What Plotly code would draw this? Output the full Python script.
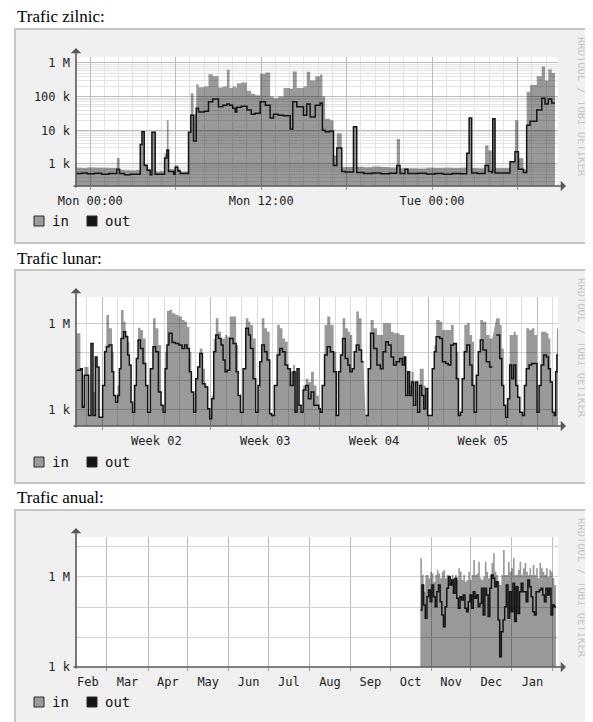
import pandas as pd
import plotly.graph_objects as go

# ------------------------------------------------------------------ data
# daily graph: hours after Mon 00:00, bytes/s
daily_hours = [-1.0, -0.6, -0.2, 0.3, 0.8, 1.3, 1.87, 2.06, 2.4, 2.8,
               3.2, 3.51, 3.63, 3.79, 4.0, 4.21, 4.33, 4.56, 4.9, 5.22,
               5.38, 5.5, 5.85, 5.96, 6.15, 6.32, 6.9, 7.06, 7.25, 7.44,
               7.6, 8.0, 8.3, 8.6, 9.0, 9.3, 9.59, 9.78, 10.0, 10.18,
               10.29, 10.6, 11.0, 11.3, 11.58, 11.93, 12.3, 12.63, 12.87, 13.2,
               13.57, 14.04, 14.22, 14.5, 14.97, 15.2, 15.44, 15.8, 16.14, 16.3,
               16.49, 16.84, 17.08, 17.31, 17.66, 17.89, 18.48, 18.71, 19.2, 19.8,
               20.4, 21.0, 21.52, 21.75, 22.1, 22.3, 23.0, 23.6, 24.2, 24.8,
               25.4, 26.0, 26.43, 26.6, 26.78, 27.2,
               27.72, 27.96, 28.19, 28.26, 28.42, 29.47, 29.82, 30.06, 30.41, 30.64,
               30.88, 31.35, 31.7, 31.93, 32.16, 32.4, 32.63]
daily_in = [780, 760, 790, 770, 780, 760, 1500, 680, 650, 640,
            660, 3800, 9000, 1000, 700, 520, 8700, 600, 620, 2000,
            20000, 700, 700, 900, 700, 600, 9000, 126000, 30000, 234000,
            190000, 200000, 460000, 400000, 186000, 200000, 630000, 180000, 200000, 190000,
            250000, 260000, 150000, 120000, 110000, 480000, 520000, 100000, 90000, 100000,
            180000, 170000, 560000, 180000, 200000, 550000, 300000, 400000, 450000, 100000,
            22000, 20000, 1800, 8000, 800, 820, 12800, 830, 800, 840,
            820, 790, 5500, 750, 760, 750, 740, 770, 760, 780,
            760, 770, 2100, 23000, 760, 750,
            3600, 2500, 800, 22000, 760, 1200, 20000, 1500, 700, 140000,
            220000, 400000, 780000, 300000, 650000, 500000, 500000]
daily_out = [520, 540, 510, 530, 500, 520, 700, 520, 480, 500,
             500, 3800, 9000, 900, 650, 480, 8700, 500, 500, 1500,
             2600, 600, 500, 800, 620, 520, 8700, 28000, 4800, 45000,
             35000, 37000, 70000, 85000, 50000, 55000, 60000, 55000, 45000, 35000,
             48000, 52000, 40000, 30000, 32000, 70000, 55000, 23000, 30000, 28000,
             27000, 11000, 70000, 50000, 28000, 60000, 25000, 55000, 65000, 10000,
             9000, 9500, 900, 3000, 600, 580, 12800, 560, 520, 545,
             510, 530, 900, 520, 700, 520, 530, 505, 525, 500,
             525, 515, 2100, 23000, 540, 525,
             900, 600, 560, 22000, 540, 1170, 2300, 700, 560, 14000,
             18600, 40000, 90000, 60000, 85000, 65000, 65000]
daily_grid_hours = [0, 6, 12, 18, 24, 30]
daily_label_hours = [0, 12, 24]
daily_labels = ["Mon 00:00", "Mon 12:00", "Tue 00:00"]

# monthly graph: days after the start of week 02, bytes/s (None = no data)
month_days = [-1.67, -1.39, -1.27, -1.14, -0.86, -0.71, -0.58, -0.43, -0.32, -0.19,
              0.04, 0.17, 0.28, 0.45, 0.64, 0.75, 0.88, 1.01, 1.12, 1.22,
              1.39, 1.52, 1.65, 1.76, 1.87, 1.97, 2.1, 2.21, 2.32, 2.47,
              2.64, 2.81, 2.94, 3.11, 3.28, 3.45, 3.63, 3.8, 3.93, 4.06,
              4.18, 4.31, 4.51, 4.72, 4.94, 5.15, 5.32, 5.47, 5.62, 5.75,
              5.9, 6.03, 6.16, 6.29, 6.46, 6.63, 6.8, 6.93, 7.06, 7.19,
              7.32, 7.49, 7.66, 7.79, 7.92, 8.05, 8.22, 8.43, 8.63, 8.76,
              8.91, 9.08, 9.25, 9.42, 9.55, 9.72, 9.89, 10.04, 10.15, 10.28,
              10.45, 10.62, 10.79, 10.92, 11.09, 11.27, 11.44, 11.61, 11.78, 11.95,
              12.12, 12.3, 12.42, 12.55, 12.68, 12.81, 12.94, 13.11, 13.28, 13.45,
              13.63, 13.8, 13.95, 14.04, 14.17, 14.32, 14.49, 14.69, 14.9, 15.07,
              15.22, 15.35, 15.48, 15.65, 15.82, 15.95, 16.1, 16.23, 16.36, 16.53,
              16.7, 16.83, 16.9, 16.96, 17.13, 17.28, 17.48, 17.69, 17.91, 18.08,
              18.25, 18.42, 18.6, 18.76, 18.94, 19.15, 19.32, 19.45, 19.54, 19.67,
              19.79, 19.92, 20.05, 20.18, 20.31, 20.44, 20.57, 20.7, 20.82, 20.95,
              21.12, 21.25, 21.38, 21.5, 21.73, 21.9, 22.11, 22.28, 22.45, 22.63,
              22.8, 22.93, 23.06, 23.18, 23.31, 23.48, 23.66, 23.81, 23.94, 24.09,
              24.21, 24.34, 24.51, 24.73, 24.94, 25.12, 25.25, 25.37, 25.59, 25.72,
              25.85, 25.97, 26.1, 26.23, 26.36, 26.49, 26.62, 26.75, 26.88, 27.06,
              27.18, 27.3, 27.48, 27.65, 27.82, 27.99, 28.12, 28.25, 28.42, 28.59,
              28.72, 28.85, 28.98, 29.1, 29.19, 29.27, 29.34]
month_in = [469e3, 27e3, 1.4e3, 31e3, 614, 208e3, 4.1e3, 70e3, 31e3, 536,
            7e3, 106e3, 2.08e6, 703e3, 106e3, 3.1e3, 1.8e3, 7e3, 27e3, 3.12e6,
            1.21e6, 409e3, 238e3, 36e3, 1.8e3, 805, 7e3, 61e3, 743e3, 614e3,
            312e3, 7e3, 805, 27e3, 1.58e6, 703e3, 182e3, 1.4e3, 805, 106e3,
            2.88e6, 3.12e6, 2.38e6, 2.08e6, 1.82e6, 1.38e6, 1.21e6, 805e3, 106e3, 4.1e3,
            805, 12e3, 31e3, 138e3, 27e3, 7e3, 1.06e3, 469, 3.1e3, 312e3,
            1.58e6, 536e3, 312e3, 312e3, 409e3, 357e3, 1.82e6, 1.82e6, 182e3, 3.1e3,
            805, 27e3, 1.58e6, 1.21e6, 922e3, 312e3, 805, 7e3, 47e3, 1.58e6,
            703e3, 536e3, 703, 614, 7e3, 922e3, 703e3, 312e3, 238e3, 27e3,
            21e3, 36e3, 21e3, 27e3, 1.4e3, 805, 7e3, 12e3, 9.2e3, 21e3,
            7e3, 3.1e3, 1.06e3, 805, 7e3, 922e3, 1.82e6, 922e3, 106e3, 614,
            21e3, 81e3, 1.58e6, 703e3, 536e3, 409e3, 27e3, 106e3, 2.72e6, 1.58e6,
            47e3, 47e3, None, 614, 27e3, 1.38e6, 703e3, 409e3, 409e3, 1.06e6,
            1.06e6, 1.06e6, 536e3, 469e3, 469e3, 409e3, 409e3, 70e3, 3.1e3, 21e3,
            7e3, 21e3, 1.4e3, 9.2e3, 805, 27e3, 27e3, 7e3, 5.4e3, 614,
            614, 27e3, 182e3, 1.38e6, 1.21e6, 614e3, 614e3, 614e3, 922e3, 208e3,
            106e3, 614, 805, 12e3, 922e3, 1.06e6, 409e3, 238e3, 805, 16e3,
            106e3, 1.38e6, 1.21e6, 409e3, 312e3, 312e3, None, 1.58e6, 922e3, 138e3,
            1.4e3, 536, 2.4e3, 409e3, 409e3, 536e3, 409e3, 2.7e3, 805, 614,
            7e3, 703e3, 614e3, 703e3, 409e3, 805, 7e3, 536e3, 536e3, 469e3,
            312e3, 9.2e3, 805, 614, 21e3, 703e3, 703e3]
month_out = [24e3, 27e3, 1.2e3, 16e3, 614, 208e3, 614, 70e3, 31e3, 536,
             7e3, 106e3, 158e3, 182e3, 21e3, 3.1e3, 1.8e3, 3.1e3, 27e3, 312e3,
             536e3, 357e3, 81e3, 36e3, 1.8e3, 805, 7e3, 61e3, 272e3, 138e3,
             41e3, 7e3, 805, 27e3, 158e3, 106e3, 4.1e3, 1.4e3, 805, 27e3,
             182e3, 469e3, 225e3, 208e3, 182e3, 138e3, 182e3, 138e3, 21e3, 4.1e3,
             805, 12e3, 31e3, 92e3, 8e3, 6.1e3, 1.06e3, 469, 2.4e3, 106e3,
             409e3, 312e3, 182e3, 54e3, 21e3, 24e3, 312e3, 208e3, 21e3, 3.1e3,
             805, 27e3, 703e3, 409e3, 138e3, 12e3, 805, 7e3, 47e3, 182e3,
             106e3, 54e3, 703, 614, 7e3, 81e3, 138e3, 106e3, 36e3, 27e3,
             7e3, 21e3, 805, 27e3, 1.4e3, 805, 4.8e3, 7e3, 2.4e3, 4.1e3,
             1.4e3, 1.4e3, 1.06e3, 805, 7e3, 81e3, 158e3, 106e3, 21e3, 614,
             21e3, 81e3, 312e3, 61e3, 36e3, 21e3, 27e3, 106e3, 182e3, 121e3,
             47e3, 47e3, None, 614, 27e3, 469e3, 138e3, 36e3, 27e3, 106e3,
             238e3, 182e3, 70e3, 36e3, 47e3, 61e3, 36e3, 70e3, 3.1e3, 21e3,
             3.1e3, 9.2e3, 1.4e3, 9.2e3, 805, 7e3, 3.1e3, 1.06e3, 5.4e3, 614,
             614, 27e3, 106e3, 357e3, 312e3, 47e3, 41e3, 36e3, 182e3, 208e3,
             12e3, 614, 805, 12e3, 106e3, 182e3, 36e3, 7e3, 805, 16e3,
             106e3, 272e3, 121e3, 47e3, 31e3, 31e3, None, 409e3, 61e3, 7e3,
             1.4e3, 536, 2.4e3, 36e3, 12e3, 36e3, 7e3, 2.7e3, 805, 614,
             7e3, 27e3, 36e3, 41e3, 41e3, 805, 7e3, 36e3, 81e3, 70e3,
             27e3, 9.2e3, 805, 614, 21e3, 81e3, 81e3]
week_starts = ["2009-01-05", "2009-01-12", "2009-01-19", "2009-01-26", "2009-02-02"]
week_labels = ["Week 02", "Week 03", "Week 04", "Week 05"]

# yearly graph: one sample every 30 h from 2008-10-23 18:00, bytes/s
year_in = [4.2e6, 1.17e6, 325e3, 1.17e6, 1.17e6, 910e3, 1.5e6, 1.32e6, 700e3, 1.17e6,
           1.7e6, 1.32e6, 910e3, 1.5e6, 1.7e6, 910e3, 1.17e6, 1.17e6, 910e3, 1.17e6,
           910e3, 1.17e6, 800e3, 1.95e6, 1.5e6, 800e3, 1.17e6, 700e3, 800e3, 1.5e6,
           800e3, 1.17e6, 3.7e6, 1.17e6, 1.32e6, 3.2e6, 910e3, 800e3, 1.02e6, 3.2e6,
           1.5e6, 910e3, 1.17e6, 2.9e6, 6.2e6, 1.5e6, 1.17e6, 700e3, 540e3, 1.17e6,
           7.9e6, 1.17e6, 1.17e6, 3.2e6, 1.5e6, 1.95e6, 4.2e6, 1.17e6, 1.17e6, 1.7e6,
           3.2e6, 1.17e6, 1.95e6, 2.9e6, 1.5e6, 1.17e6, 1.95e6, 1.17e6, 2.5e6, 1.17e6,
           1.95e6, 910e3, 2.9e6, 1.95e6, 1.5e6, 1.17e6, 1.95e6, 1.02e6, 1.7e6, 1.5e6,
           910e3, 540e3, 540e3]
year_out = [80e3, 540e3, 117e3, 42e3, 220e3, 370e3, 150e3, 540e3, 220e3, 102e3,
            325e3, 540e3, 150e3, 54e3, 22e3, 102e3, 420e3, 1.02e6, 540e3, 800e3,
            285e3, 910e3, 195e3, 90e3, 220e3, 170e3, 250e3, 90e3, 70e3, 150e3,
            250e3, 90e3, 325e3, 195e3, 250e3, 102e3, 132e3, 420e3, 54e3, 420e3,
            250e3, 48e3, 420e3, 1.17e6, 910e3, 475e3, 700e3, 37e3, 2.2e3, 15e3,
            37e3, 102e3, 540e3, 42e3, 325e3, 70e3, 615e3, 33e3, 475e3, 61e3,
            325e3, 615e3, 325e3, 325e3, 150e3, 800e3, 475e3, 220e3, 70e3, 54e3,
            325e3, 325e3, 370e3, 420e3, 250e3, 150e3, 420e3, 250e3, 420e3, 54e3,
            117e3, 102e3, 102e3]
month_starts = ["2008-02-01", "2008-03-01", "2008-04-01", "2008-05-01", "2008-06-01",
                "2008-07-01", "2008-08-01", "2008-09-01", "2008-10-01", "2008-11-01",
                "2008-12-01", "2009-01-01", "2009-02-01"]
month_labels = ["Feb", "Mar", "Apr", "May", "Jun", "Jul", "Aug", "Sep", "Oct",
                "Nov", "Dec", "Jan"]

decade_ticks = [1e3, 1e4, 1e5, 1e6, 1e7]
daily_tick_text = ["1 k", "10 k", "100 k", "1 M", ""]
sparse_tick_text = ["1 k", "", "", "1 M", ""]
series_names = ["in", "out"]
watermark = "RRDTOOL / TOBI OETIKER"

# ------------------------------------------------------------------ build
W, H = 593, 722
OFF = 8  # the page places the figure 8 px in from the window corner


def fx(x):
    return (x - OFF) / W


def fy(y):
    return 1 - (y - OFF) / H


MONO = "DejaVu Sans Mono"
FILL = "rgba(0,0,0,0.40)"
OUTC = "#141414"
AXIS = "#5a5a5a"
GMAJ = "#bcbcbc"
GMIN = "#e3e3e3"

day0 = pd.Timestamp("2009-02-02 00:00")
wk0 = pd.Timestamp("2009-01-05 00:00")
d_x = [day0 + pd.Timedelta(hours=h) for h in daily_hours]
m_x = [wk0 + pd.Timedelta(days=d) for d in month_days]
y_x = list(pd.date_range("2008-10-23 18:00", periods=len(year_in), freq="30h"))


def mids(starts):
    t = [pd.Timestamp(s) for s in starts]
    return [a + (b - a) / 2 for a, b in zip(t[:-1], t[1:])]


panels = [
    dict(title="Trafic zilnic:", box=(15, 29, 588, 243), plot=(76, 57, 558, 186),
         x=d_x, yin=daily_in, yout=daily_out,
         xrange=[day0 - pd.Timedelta(hours=1), day0 + pd.Timedelta(hours=32.84)],
         yrange=[2.347, 6.175],
         grid=[day0 + pd.Timedelta(hours=h) for h in daily_grid_hours],
         minor=dict(tickmode="linear", tick0=day0, dtick=3600000, showgrid=True,
                    gridcolor=GMIN, ticks=""),
         lab_x=[day0 + pd.Timedelta(hours=h) for h in daily_label_hours],
         lab_t=daily_labels, ytext=daily_tick_text, yminor=True, ygrid=GMAJ),
    dict(title="Trafic lunar:", box=(15, 270, 588, 483), plot=(76, 297, 558, 426),
         x=m_x, yin=month_in, yout=month_out,
         xrange=[wk0 - pd.Timedelta(days=1.673), wk0 + pd.Timedelta(days=29.34)],
         yrange=[2.42, 6.947],
         grid=[pd.Timestamp(s) for s in week_starts],
         minor=dict(tickmode="linear", tick0=wk0, dtick=86400000, showgrid=True,
                    gridcolor="#dcdcdc", ticks=""),
         lab_x=mids(week_starts), lab_t=week_labels, ytext=sparse_tick_text,
         yminor=False, ygrid="#cdcdcd"),
    dict(title="Trafic anual:", box=(15, 510, 588, 730), plot=(76, 537, 558, 667),
         x=y_x, yin=year_in, yout=year_out,
         xrange=[pd.Timestamp("2008-02-06 14:00"), pd.Timestamp("2009-02-04 19:00")],
         yrange=[3.0, 7.333],
         grid=[pd.Timestamp(s) for s in month_starts],
         minor=None,
         lab_x=mids(month_starts), lab_t=month_labels, ytext=sparse_tick_text,
         yminor=False, ygrid="#d2d2d2"),
]

fig = go.Figure()
shapes = []
annotations = []
layout = {}

minor_log = [k * 10 ** e for e in range(2, 7) for k in range(2, 10)]

for i, p in enumerate(panels):
    n = i + 1
    xs = "" if n == 1 else str(n)
    ys = xs
    lx = str(n + 3)
    bx0, by0, bx1, by1 = p["box"]
    px0, py0, px1, py1 = p["plot"]

    # panel frame + white plotting area
    shapes.append(dict(type="rect", xref="paper", yref="paper", layer="below",
                       x0=fx(bx0), x1=fx(bx1), y0=fy(by1), y1=fy(by0),
                       fillcolor="#f0f0f0", line=dict(color="#c6c6c6", width=2)))
    shapes.append(dict(type="rect", xref="paper", yref="paper", layer="below",
                       x0=fx(px0), x1=fx(px1), y0=fy(py1), y1=fy(py0),
                       fillcolor="#ffffff", line=dict(width=0)))

    # data
    fig.add_trace(go.Scatter(x=p["x"], y=p["yin"], mode="lines", name=series_names[0],
                             line=dict(width=0, shape="hv"), fill="tozeroy",
                             fillcolor=FILL, connectgaps=False, showlegend=False,
                             xaxis="x" + xs, yaxis="y" + ys, hoverinfo="skip"))
    fig.add_trace(go.Scatter(x=p["x"], y=p["yout"], mode="lines", name=series_names[1],
                             line=dict(width=1.5, color=OUTC, shape="hv"),
                             connectgaps=False, showlegend=False,
                             xaxis="x" + xs, yaxis="y" + ys, hoverinfo="skip"))
    # label axis placeholder
    fig.add_trace(go.Scatter(x=[None], y=[None], mode="lines", showlegend=False,
                             xaxis="x" + lx, yaxis="y" + ys, hoverinfo="skip"))

    xa = dict(type="date", domain=[fx(px0), fx(px1)], anchor="y" + ys,
              range=p["xrange"], tickmode="array", tickvals=p["grid"],
              showticklabels=False, ticks="outside", ticklen=3, tickcolor="#9a9a9a",
              showgrid=True, gridcolor=GMAJ, gridwidth=1, showline=False,
              zeroline=False, fixedrange=True, automargin=False)
    if p["minor"]:
        xa["minor"] = p["minor"]
    layout["xaxis" + xs] = xa

    layout["xaxis" + lx] = dict(type="date", overlaying="x" + xs, anchor="y" + ys,
                                range=p["xrange"], tickmode="array",
                                tickvals=p["lab_x"], ticktext=p["lab_t"],
                                showgrid=False, zeroline=False, showline=False,
                                ticks="", ticklabelstandoff=6, automargin=False,
                                tickfont=dict(family=MONO, size=12, color="#222222"),
                                fixedrange=True)

    ya = dict(type="log", domain=[fy(py1), fy(py0)], anchor="x" + xs,
              range=p["yrange"], tickmode="array", tickvals=decade_ticks,
              ticktext=p["ytext"], ticks="", ticklabelstandoff=5, automargin=False,
              tickfont=dict(family=MONO, size=12, color="#222222"),
              showgrid=True, gridcolor=p["ygrid"], gridwidth=1, showline=False,
              zeroline=False, fixedrange=True)
    if p["yminor"]:
        ya["minor"] = dict(tickmode="array", tickvals=minor_log, showgrid=True,
                           gridcolor=GMIN, ticks="")
    layout["yaxis" + ys] = ya

    # heading
    annotations.append(dict(xref="paper", yref="paper", x=fx(15), y=fy(by0 - 12),
                            xanchor="left", yanchor="middle", showarrow=False,
                            text=p["title"],
                            font=dict(family="Liberation Serif", size=17, color="#000")))
    # axis arrows
    annotations.append(dict(xref="paper", yref="paper", x=fx(566), y=fy(py1),
                            ax=-(566 - 72), ay=0, axref="pixel", ayref="pixel",
                            showarrow=True, arrowhead=1, arrowsize=1.1, arrowwidth=1.6,
                            arrowcolor=AXIS, standoff=0, text=""))
    annotations.append(dict(xref="paper", yref="paper", x=fx(px0), y=fy(py0 - 9),
                            ax=0, ay=(py1 + 3) - (py0 - 9), axref="pixel", ayref="pixel",
                            showarrow=True, arrowhead=1, arrowsize=1.1, arrowwidth=1.6,
                            arrowcolor=AXIS, standoff=0, text=""))
    # watermark
    annotations.append(dict(xref="paper", yref="paper", x=fx(582), y=fy(by0 + 78),
                            xanchor="center", yanchor="middle", showarrow=False,
                            textangle=90, text=watermark,
                            font=dict(family=MONO, size=10.5, color="#c6c6c6")))
    # legend
    ly = by0 + 192
    for (sx, col, label) in [(34, "#9a9a9a", series_names[0]),
                             (87, "#141414", series_names[1])]:
        shapes.append(dict(type="rect", xref="paper", yref="paper",
                           x0=fx(sx), x1=fx(sx + 10), y0=fy(ly + 5), y1=fy(ly - 5),
                           fillcolor=col, line=dict(color="#2a2a2a", width=1)))
        annotations.append(dict(xref="paper", yref="paper", x=fx(sx + 16), y=fy(ly),
                                xanchor="left", yanchor="middle", showarrow=False,
                                text=label,
                                font=dict(family=MONO, size=14, color="#111")))

fig.update_layout(width=W, height=H, autosize=False,
                  margin=dict(l=0, r=0, t=0, b=0, pad=0, autoexpand=False),
                  paper_bgcolor="#ffffff", plot_bgcolor="rgba(0,0,0,0)",
                  showlegend=False, shapes=shapes, annotations=annotations, **layout)

fig.write_html("out.html")
